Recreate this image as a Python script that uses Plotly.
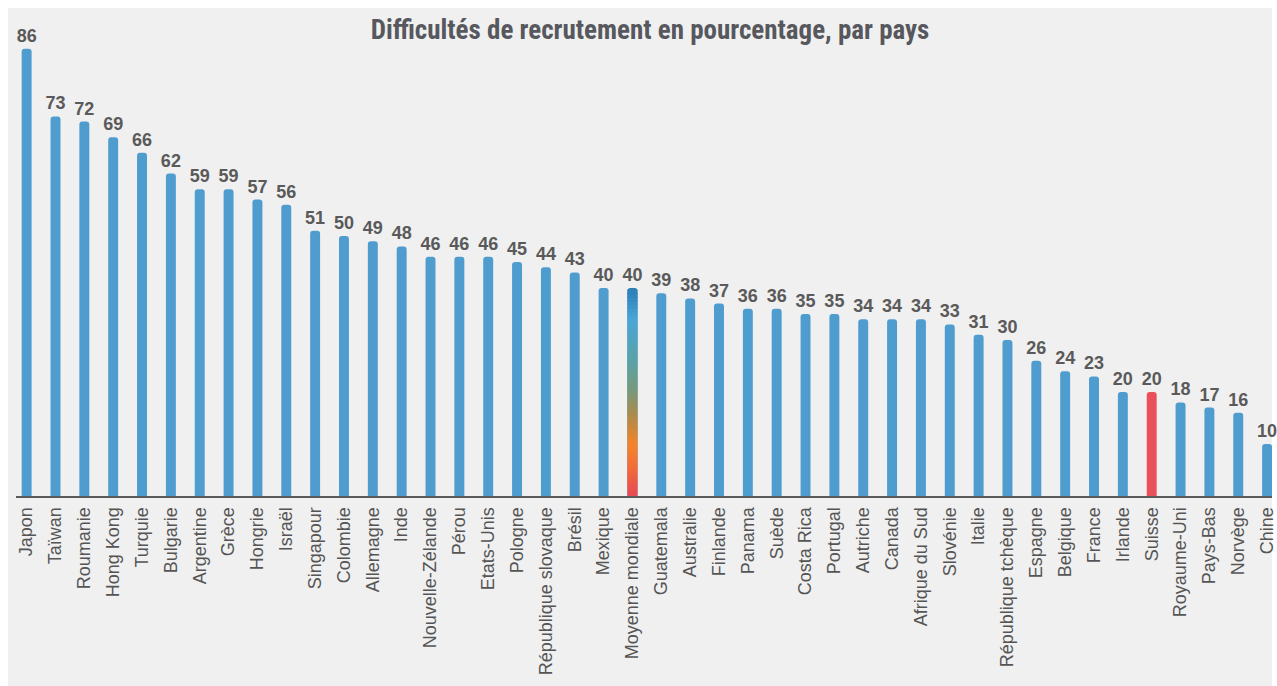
import plotly.graph_objects as go

countries = ["Japon", "Taïwan", "Roumanie", "Hong Kong", "Turquie", "Bulgarie", "Argentine",
             "Grèce", "Hongrie", "Israël", "Singapour", "Colombie", "Allemagne", "Inde",
             "Nouvelle-Zélande", "Pérou", "Etats-Unis", "Pologne", "République slovaque",
             "Brésil", "Mexique", "Moyenne mondiale", "Guatemala", "Australie", "Finlande",
             "Panama", "Suède", "Costa Rica", "Portugal", "Autriche", "Canada",
             "Afrique du Sud", "Slovénie", "Italie", "République tchèque", "Espagne",
             "Belgique", "France", "Irlande", "Suisse", "Royaume-Uni", "Pays-Bas",
             "Norvège", "Chine"]
values = [86, 73, 72, 69, 66, 62, 59, 59, 57, 56, 51, 50, 49, 48, 46, 46, 46, 45, 44, 43,
          40, 40, 39, 38, 37, 36, 36, 35, 35, 34, 34, 34, 33, 31, 30, 26, 24, 23, 20, 20,
          18, 17, 16, 10]
average_label = "Moyenne mondiale"
highlight_label = "Suisse"

BLUE = "#4f9ccf"
RED = "#e8505b"
TEXT = "#5a5a5a"
PANEL = "#f0f0f0"

# gradient stops for the world average bar (top -> bottom)
grad_stops = [(0.0, (43, 123, 180)), (0.15, (74, 165, 216)), (0.35, (90, 163, 168)),
              (0.50, (122, 152, 120)), (0.62, (176, 138, 72)), (0.75, (245, 132, 42)),
              (0.87, (242, 106, 58)), (1.0, (232, 72, 85))]


def grad_color(t):
    for (t0, c0), (t1, c1) in zip(grad_stops[:-1], grad_stops[1:]):
        if t0 <= t <= t1:
            f = (t - t0) / (t1 - t0) if t1 > t0 else 0
            c = [round(a + (b - a) * f) for a, b in zip(c0, c1)]
            return "rgb(%d,%d,%d)" % tuple(c)
    return "rgb(%d,%d,%d)" % grad_stops[-1][1]


colors = []
for c in countries:
    if c == average_label:
        colors.append(grad_color(0.0))
    elif c == highlight_label:
        colors.append(RED)
    else:
        colors.append(BLUE)

fig = go.Figure()
fig.add_trace(go.Bar(
    x=countries, y=values,
    marker=dict(color=colors, line=dict(width=0), cornerradius=3),
    text=[str(v) for v in values], textposition="outside",
    textfont=dict(family="Liberation Sans", size=18, color=TEXT, weight="bold"),
    constraintext="none", cliponaxis=False, hoverinfo="x+y",
))

# gradient overlay for the world average bar
avg_val = values[countries.index(average_label)]
n = 60
seg = avg_val / n
bases, heights, seg_colors = [], [], []
for i in range(n - 1):
    bases.append(i * seg)
    heights.append(seg * 1.6)
    t = 1.0 - (i + 0.5) / n
    seg_colors.append(grad_color(t))
fig.add_trace(go.Bar(
    x=[average_label] * len(bases), y=heights, base=bases,
    marker=dict(color=seg_colors, line=dict(width=0)),
    hoverinfo="skip", showlegend=False,
))

W, H = 1277, 686
ML, MR, MT, MB = 16, 0, 40, 190
pw, ph = W - ML - MR, H - MT - MB

fig.update_layout(
    width=W, height=H, autosize=False,
    paper_bgcolor="white", plot_bgcolor=PANEL,
    margin=dict(l=ML, r=MR, t=MT, b=MB),
    barmode="overlay", bargap=0.655, showlegend=False,
    shapes=[dict(type="rect", xref="paper", yref="paper", layer="below",
                 x0=(8 - ML) / pw, x1=1.0, y0=-MB / ph, y1=1 + (MT - 8) / ph,
                 fillcolor=PANEL, line=dict(width=0))],
    title=dict(text="<b>Difficultés de recrutement en pourcentage, par pays</b>",
               font=dict(family="Roboto Condensed, Liberation Sans Narrow, Arial Narrow, Roboto",
                         size=27, color="#56585e"),
               x=650 / W, xref="container", xanchor="center",
               y=1 - 30 / H, yref="container", yanchor="middle"),
    xaxis=dict(range=[-0.369, 43.17], showline=True, linecolor="#5a5a5a", linewidth=2,
               showgrid=False, zeroline=False, ticks="", tickangle=-90,
               ticklabelstandoff=2,
               tickfont=dict(family="Liberation Sans", size=18, color="#555555")),
    yaxis=dict(range=[0, 456 / 5.2], visible=False, showgrid=False, zeroline=False),
)

fig.write_html("out.html", config={"displayModeBar": False},
               post_script="document.body.style.margin='0';"
                           "document.documentElement.style.overflow='hidden';"
                           "document.body.style.overflow='hidden';")
